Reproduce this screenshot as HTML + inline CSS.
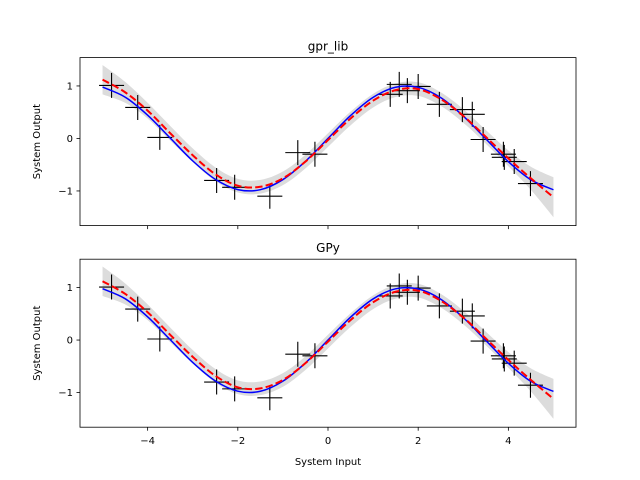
<!DOCTYPE html>
<html><head><meta charset="utf-8"><style>
body{margin:0;background:#fff;}
svg{display:block;font-family:"DejaVu Sans","Liberation Sans",sans-serif;}
</style></head><body>
<svg id="fig" width="640" height="480" viewBox="0 0 640 480"></svg>
<script>
const gridX = [-5,-4.5,-4,-3.5,-3,-2.5,-2,-1.5,-1,-0.5,0,0.5,1,1.5,2,2.5,3,3.5,4,4.5,5];
const trueValues = [0.978,0.788,0.443,0.008,-0.427,-0.778,-0.974,-0.976,-0.783,-0.435,0,0.435,0.783,0.976,0.974,0.778,0.427,-0.008,-0.443,-0.788,-0.978];
const meanValues = [1.12,0.88,0.53,0.1,-0.32,-0.68,-0.9,-0.92,-0.76,-0.44,-0.03,0.38,0.72,0.92,0.94,0.75,0.43,0.03,-0.38,-0.76,-1.12];
const stdValues = [0.28,0.2,0.15,0.14,0.13,0.13,0.13,0.13,0.13,0.13,0.13,0.13,0.13,0.13,0.13,0.13,0.13,0.13,0.15,0.22,0.38];
const obsX = [-4.8,-4.22,-3.73,-2.47,-2.07,-1.29,-0.67,-0.29,1.38,1.58,1.76,2.0,2.47,2.98,3.2,3.44,3.89,3.91,4.13,4.49];
const obsY = [1.01,0.59,0.02,-0.8,-0.93,-1.1,-0.27,-0.3,0.84,1.03,0.91,0.99,0.65,0.55,0.46,-0.02,-0.3,-0.36,-0.44,-0.86];
const xTicks = [-4,-2,0,2,4];
const yTicks = [-1,0,1];
const panels = [{title:"gpr_lib", top:57.6, name:"gpr-lib"},{title:"GPy", top:259.2, name:"gpy"}];

const NS="http://www.w3.org/2000/svg";
const svg=document.getElementById('fig');
const L=80,R=576,H=168,xmin=-5.5,xmax=5.5,ymin=-1.66,ymax=1.54;
const sx=x=>L+(x-xmin)/(xmax-xmin)*(R-L);
function mk(tag,attrs,parent){const e=document.createElementNS(NS,tag);for(const k in attrs)e.setAttribute(k,attrs[k]);(parent||svg).appendChild(e);return e;}
function smooth(pts){let d=`M${pts[0][0]},${pts[0][1]}`;for(let i=0;i<pts.length-1;i++){const p0=pts[i-1]||pts[i],p1=pts[i],p2=pts[i+1],p3=pts[i+2]||p2;
d+=` C${p1[0]+(p2[0]-p0[0])/6},${p1[1]+(p2[1]-p0[1])/6} ${p2[0]-(p3[0]-p1[0])/6},${p2[1]-(p3[1]-p1[1])/6} ${p2[0]},${p2[1]}`;}return d;}

panels.forEach((p,pi)=>{
  const T=p.top,B=T+H;
  const sy=y=>B-(y-ymin)/(ymax-ymin)*H;
  const g=mk('g',{});
  
  
  const upper=gridX.map((x,i)=>[sx(x),sy(meanValues[i]+stdValues[i])]);
  const lower=gridX.map((x,i)=>[sx(x),sy(meanValues[i]-stdValues[i])]).reverse();
  const band=mk('path',{d:smooth(upper)+' L'+smooth(lower).slice(1)+' Z',fill:'#dcdcdc',stroke:'none'},g);
  
  
  obsX.forEach((x,i)=>{
    const cx=sx(x),cy=sy(obsY[i]);
    const c=mk('path',{d:`M${cx-12.5},${cy}H${cx+12.5}M${cx},${cy-12.5}V${cy+12.5}`,stroke:'#000','stroke-width':1.1,fill:'none'},g);
    
    
  });
  const tl=mk('path',{d:smooth(gridX.map((x,i)=>[sx(x),sy(trueValues[i])])),stroke:'#0000ff','stroke-width':1.5,fill:'none'},g);
  
  
  const ml=mk('path',{d:smooth(gridX.map((x,i)=>[sx(x),sy(meanValues[i])])),stroke:'#ff0000','stroke-width':2,'stroke-dasharray':'7.4,3.2',fill:'none'},g);
  
  
  const fr=mk('rect',{x:L,y:T,width:R-L,height:H,fill:'none',stroke:'#000','stroke-width':0.8},g);
  
  
  xTicks.forEach(v=>{
    mk('line',{x1:sx(v),x2:sx(v),y1:B,y2:B+3.5,stroke:'#000','stroke-width':0.8},g);
    if(pi===1){const t=mk('text',{x:sx(v),y:B+17,'font-size':10,'text-anchor':'middle'},g);t.textContent=v<0?'\u2212'+(-v):v;
      
      }
  });
  yTicks.forEach(v=>{
    mk('line',{x1:L-3.5,x2:L,y1:sy(v),y2:sy(v),stroke:'#000','stroke-width':0.8},g);
    const t=mk('text',{x:L-7,y:sy(v)+3.5,'font-size':10,'text-anchor':'end'},g);t.textContent=v<0?'\u2212'+(-v):v;
    
    
  });
  const ti=mk('text',{x:(L+R)/2,y:T-7,'font-size':12,'text-anchor':'middle'},g);ti.textContent=p.title;
  
  
  const yl=mk('text',{x:0,y:0,'font-size':10,'text-anchor':'middle',transform:`translate(40,${T+H/2}) rotate(-90)`},g);yl.textContent='System Output';
  
  
});
const xl=mk('text',{x:328,y:465,'font-size':10,'text-anchor':'middle'});xl.textContent='System Input';


</script>
</body></html>
